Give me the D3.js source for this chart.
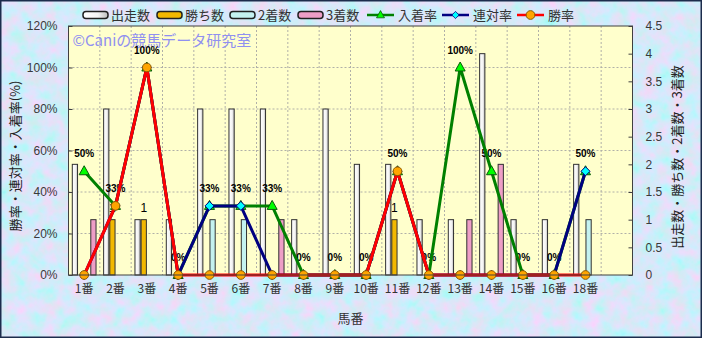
<!DOCTYPE html>
<html>
<head>
<meta charset="utf-8">
<script src="https://cdn.jsdelivr.net/npm/d3@7"></script>
<style>
  html, body { margin: 0; padding: 0; background: #fff; }
  svg { display: block; }
</style>
</head>
<body>
<svg id="canvas" width="702" height="338"></svg>
<script>
// data
var categories = ['1番','2番','3番','4番','5番','6番','7番','8番','9番','10番','11番','12番','13番','14番','15番','16番','18番'];
var runs    = [2, 3, 1, 1, 3, 3, 3, 1, 3, 2, 2, 1, 1, 4, 1, 1, 2];
var wins    = [0, 1, 1, 0, 0, 0, 0, 0, 0, 0, 1, 0, 0, 0, 0, 0, 0];
var seconds = [0, 0, 0, 0, 1, 1, 0, 0, 0, 0, 0, 0, 0, 0, 0, 0, 1];
var thirds  = [1, 0, 0, 0, 0, 0, 1, 0, 0, 0, 0, 0, 1, 2, 0, 0, 0];
var placeRate  = [50, 33.3, 100, 0, 33.3, 33.3, 33.3, 0, 0, 0, 50, 0, 100, 50, 0, 0, 50];
var rentaiRate = [0, 33.3, 100, 0, 33.3, 33.3, 0, 0, 0, 0, 50, 0, 0, 0, 0, 0, 50];
var winRate    = [0, 33.3, 100, 0, 0, 0, 0, 0, 0, 0, 50, 0, 0, 0, 0, 0, 0];
var leftTicks  = [0, 20, 40, 60, 80, 100, 120];
var rightTicks = [0, 0.5, 1, 1.5, 2, 2.5, 3, 3.5, 4, 4.5];

var W = 702, H = 338;
var margin = { left: 68.5, top: 26, right: 69.5, bottom: 63 };
var innerWidth = W - margin.left - margin.right;
var innerHeight = H - margin.top - margin.bottom;
var jp = '"Noto Sans CJK JP", "Noto Sans", sans-serif';
var num = '"Liberation Sans", Arial, sans-serif';

var barSeries = [
  { name: '出走数', values: runs, fill: 'url(#gWhite)' },
  { name: '勝ち数', values: wins, fill: '#f2b800' },
  { name: '2着数', values: seconds, fill: '#c4f2f0' },
  { name: '3着数', values: thirds, fill: '#ee9ec6' }
];
var lineSeries = [
  { name: '入着率', values: placeRate, stroke: '#008000', marker: 'triangle', fill: '#00ff00', edge: '#0a5a0a' },
  { name: '連対率', values: rentaiRate, stroke: '#000080', marker: 'diamond', fill: '#00ffff', edge: '#000080' },
  { name: '勝率', values: winRate, stroke: '#ff0000', marker: 'circle', fill: '#ffa500', edge: '#8a5a00' }
];

// one empty slot after 18番, like the original
var slots = categories.concat(['']);
var x = d3.scaleBand().domain(slots).range([0, innerWidth]);
var bw = x.bandwidth();
var xb = d3.scaleBand().domain(d3.range(4)).range([3.8, bw - 3.8]).paddingInner(0.15);
var yL = d3.scaleLinear().domain([0, 120]).range([innerHeight, 0]);
var yR = d3.scaleLinear().domain([0, 4.5]).range([innerHeight, 0]);

var svg = d3.select('#canvas');
var defs = svg.append('defs');

var grad = defs.append('linearGradient').attr('id', 'gWhite');
grad.append('stop').attr('offset', '0%').attr('stop-color', '#ffffff');
grad.append('stop').attr('offset', '60%').attr('stop-color', '#f4f4f4');
grad.append('stop').attr('offset', '100%').attr('stop-color', '#bdbdbd');

// mottled pastel backdrop (mostly light blue, some pink)
var filt = defs.append('filter').attr('id', 'mottle').attr('x', 0).attr('y', 0).attr('width', '100%').attr('height', '100%');
filt.append('feTurbulence').attr('type', 'fractalNoise').attr('baseFrequency', 0.07).attr('numOctaves', 3).attr('seed', 7).attr('result', 'n');
filt.append('feColorMatrix').attr('in', 'n').attr('type', 'matrix')
  .attr('values', '0.9 0 0 0 0.24  -0.5 0 0 0 1.1  0 0 0.25 0 0.84  0 0 0 0 1');

svg.append('rect').attr('width', W).attr('height', H).attr('fill', '#cad4f2');
svg.append('rect').attr('width', W).attr('height', H).attr('filter', 'url(#mottle)').attr('opacity', 0.85);
svg.append('rect').attr('x', 0.75).attr('y', 0.75).attr('width', W - 1.5).attr('height', H - 1.5)
  .attr('fill', 'none').attr('stroke', '#1c2c4c').attr('stroke-width', 1.5);

var g = svg.append('g').attr('transform', 'translate(' + margin.left + ',' + margin.top + ')');

g.append('rect').attr('width', innerWidth).attr('height', innerHeight).attr('fill', '#ffffcc');

// grid
g.append('g').selectAll('line').data(leftTicks.slice(1, -1)).enter().append('line')
  .attr('x1', 0).attr('x2', innerWidth).attr('y1', d => yL(d)).attr('y2', d => yL(d))
  .attr('stroke', '#b0b0a8').attr('stroke-dasharray', '2,2');
g.append('g').selectAll('line').data(slots.slice(1)).enter().append('line')
  .attr('x1', d => x(d)).attr('x2', d => x(d)).attr('y1', 0).attr('y2', innerHeight)
  .attr('stroke', '#b0b0a8').attr('stroke-dasharray', '2,2');

// watermark
g.append('text').attr('x', 4).attr('y', 20).style('font', '15px ' + jp).attr('fill', '#9090f0')
  .text('©Caniの競馬データ研究室');

// bars
var barG = g.append('g').attr('class', 'bars');
barSeries.forEach(function (s, si) {
  var rows = s.values.map((v, i) => ({ cat: categories[i], v: v })).filter(d => d.v > 0);
  barG.append('g').selectAll('rect').data(rows).enter().append('rect')
    .attr('x', d => x(d.cat) + xb(si))
    .attr('width', xb.bandwidth())
    .attr('y', d => yR(d.v))
    .attr('height', d => innerHeight - yR(d.v))
    .attr('fill', s.fill).attr('stroke', '#303030').attr('stroke-width', 1);
});

// labels on 勝ち数 bars
var winRows = wins.map((v, i) => ({ cat: categories[i], v: v })).filter(d => d.v > 0);
g.append('g').selectAll('text').data(winRows).enter().append('text')
  .attr('x', d => x(d.cat) + xb(1) + xb.bandwidth() / 2)
  .attr('y', d => yR(d.v) - 8)
  .attr('text-anchor', 'middle').style('font', '12px ' + num).attr('fill', '#000')
  .text(d => d.v);

// rate labels (入着率)
var rateRows = placeRate.map((v, i) => ({ cat: categories[i], v: v }));
g.append('g').selectAll('text').data(rateRows).enter().append('text')
  .attr('x', d => x(d.cat) + bw / 2)
  .attr('y', d => yL(d.v) - 14)
  .attr('text-anchor', 'middle').style('font', 'bold 10px ' + num).attr('fill', '#000')
  .text(d => d3.format('.0f')(d.v) + '%');

// lines and markers
var line = d3.line().x(d => x(d.cat) + bw / 2).y(d => yL(d.v));
function markerPath(type) {
  if (type === 'triangle') return 'M0,-5.5L5,3.5L-5,3.5Z';
  if (type === 'diamond') return 'M0,-4.5L4.5,0L0,4.5L-4.5,0Z';
  return d3.symbol(d3.symbolCircle, 60)();
}
lineSeries.forEach(function (s) {
  var rows = s.values.map((v, i) => ({ cat: categories[i], v: v }));
  var lg = g.append('g');
  lg.append('path').attr('d', line(rows)).attr('fill', 'none')
    .attr('stroke', s.stroke).attr('stroke-width', 3);
  lg.selectAll('path.m').data(rows).enter().append('path')
    .attr('transform', d => 'translate(' + (x(d.cat) + bw / 2) + ',' + yL(d.v) + ')')
    .attr('d', markerPath(s.marker))
    .attr('fill', s.fill).attr('stroke', s.edge).attr('stroke-width', 1);
});

// plot frame
g.append('rect').attr('width', innerWidth).attr('height', innerHeight)
  .attr('fill', 'none').attr('stroke', '#404040').attr('stroke-width', 1);

// left axis
var axL = g.append('g').call(d3.axisLeft(yL).tickValues(leftTicks).tickSize(-4).tickPadding(11).tickFormat(d => d + '%'));
axL.select('.domain').remove();
axL.selectAll('line').attr('stroke', '#404040');
axL.selectAll('text').style('font', '12px ' + num).attr('fill', '#3a3a3a');

// right axis
var axR = g.append('g').attr('transform', 'translate(' + innerWidth + ',0)')
  .call(d3.axisRight(yR).tickValues(rightTicks).tickSize(-4).tickPadding(13).tickFormat(d => String(d)));
axR.select('.domain').remove();
axR.selectAll('line').attr('stroke', '#404040');
axR.selectAll('text').style('font', '12px ' + num).attr('fill', '#3a3a3a');

// x axis labels
var axX = g.append('g').attr('transform', 'translate(0,' + innerHeight + ')')
  .call(d3.axisBottom(x).tickSize(0).tickPadding(9));
axX.select('.domain').remove();
axX.selectAll('text').style('font', '12px ' + jp).attr('fill', '#333');

// titles
svg.append('text').attr('transform', 'translate(' + (margin.left + innerWidth / 2) + ',323)')
  .attr('text-anchor', 'middle').style('font', '13px ' + jp).attr('fill', '#333').text('馬番');
svg.append('text').attr('transform', 'translate(20,156) rotate(-90)')
  .attr('text-anchor', 'middle').style('font', '13px ' + jp).attr('fill', '#222').text('勝率・連対率・入着率(%)');
svg.append('text').attr('transform', 'translate(682,157) rotate(-90)')
  .attr('text-anchor', 'middle').style('font', '13px ' + jp).attr('fill', '#222').text('出走数・勝ち数・2着数・3着数');

// legend
var legend = svg.append('g').attr('transform', 'translate(0,15)');
var legendItems = [
  { s: barSeries[0], x: 83 }, { s: barSeries[1], x: 157 }, { s: barSeries[2], x: 230 }, { s: barSeries[3], x: 298 },
  { s: lineSeries[0], x: 367, line: true }, { s: lineSeries[1], x: 442, line: true }, { s: lineSeries[2], x: 517, line: true }
];
legendItems.forEach(function (it) {
  var li = legend.append('g').attr('transform', 'translate(' + it.x + ',0)');
  if (it.line) {
    li.append('line').attr('x1', 0).attr('x2', 27).attr('stroke', it.s.stroke).attr('stroke-width', 2.5);
    li.append('path').attr('transform', 'translate(13.5,0)' + (it.s.marker === 'circle' ? '' : ' scale(0.8)'))
      .attr('d', markerPath(it.s.marker)).attr('fill', it.s.fill).attr('stroke', it.s.edge).attr('stroke-width', 1);
  } else {
    li.append('rect').attr('x', 0).attr('y', -3.5).attr('width', 25).attr('height', 7).attr('rx', 3)
      .attr('fill', it.s.fill).attr('stroke', '#202020').attr('stroke-width', 1.5);
  }
  li.append('text').attr('x', it.line ? 31 : 28).attr('y', 5).style('font', '13px ' + jp).attr('fill', '#333')
    .text(it.s.name);
});
</script>
</body>
</html>
